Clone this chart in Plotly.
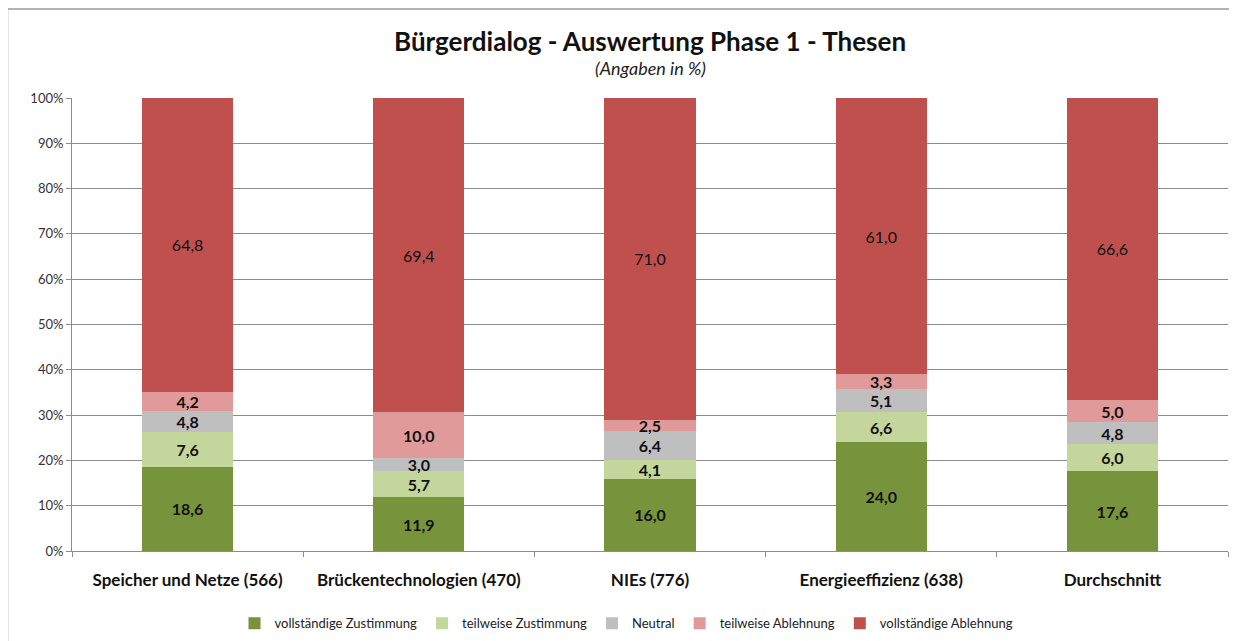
import plotly.graph_objects as go

# Data (values in %)
categories = ['Speicher und Netze (566)', 'Brückentechnologien (470)', 'NIEs (776)',
              'Energieeffizienz (638)', 'Durchschnitt']
voll_zust = [18.6, 11.9, 16.0, 24.0, 17.6]
teil_zust = [7.6, 5.7, 4.1, 6.6, 6.0]
neutral = [4.8, 3.0, 6.4, 5.1, 4.8]
teil_abl = [4.2, 10.0, 2.5, 3.3, 5.0]
voll_abl = [64.8, 69.4, 71.0, 61.0, 66.6]

series = [
	('vollständige Zustimmung', voll_zust, '#77933C', True),
	('teilweise Zustimmung', teil_zust, '#C3D69B', True),
	('Neutral', neutral, '#BFBFBF', True),
	('teilweise Ablehnung', teil_abl, '#E09A9A', True),
	('vollständige Ablehnung', voll_abl, '#C0504D', False),
]

font = 'Lato, "Open Sans", sans-serif'

# plot area (figure pixels): top 90, bottom 543
def paper_y(py):
	return (543 - py) / 453

fig = go.Figure()
for name, vals, color, bold in series:
	fig.add_trace(go.Bar(
		x=categories, y=vals, name=name,
		marker=dict(color=color, line=dict(width=0)),
		texttemplate='<b>%{y:.1f}</b>' if bold else '%{y:.1f}',
		textposition='inside', insidetextanchor='middle',
		constraintext='none',
		textfont=dict(family=font, size=16, color='#111111'),
		hovertemplate='%{x}<br>' + name + ': %{y:.1f}%<extra></extra>'
	))

fig.update_layout(
	width=1237, height=641,
	barmode='stack', bargap=0.605,
	separators=',.',
	paper_bgcolor='white', plot_bgcolor='white',
	margin=dict(l=64, r=17, t=90, b=98, autoexpand=False),
	font=dict(family=font, size=12, color='#222222'),
	showlegend=True,
	legend=dict(orientation='h', xref='container', yref='container',
				x=0.5, xanchor='center', y=0.04, yanchor='middle',
				font=dict(size=13), traceorder='normal', itemwidth=30),
	xaxis=dict(showline=True, linecolor='#8c8c8c', linewidth=1, automargin=False,
			   ticks='outside', tickson='boundaries', ticklen=5, tickcolor='#8c8c8c',
			   ticklabelstandoff=14,
			   tickfont=dict(size=17, color='#111111', family=font, weight='bold'),
			   showgrid=False),
	yaxis=dict(range=[0, 100], dtick=10, ticksuffix='%', automargin=False,
			   showline=True, linecolor='#8c8c8c', linewidth=1,
			   ticks='outside', ticklen=5, tickcolor='#8c8c8c',
			   gridcolor='#8c8c8c', gridwidth=1,
			   tickfont=dict(size=13, color='#333333'), zeroline=False),
	annotations=[
		dict(text='<b>Bürgerdialog - Auswertung Phase 1 - Thesen</b>', xref='paper', yref='paper',
			 x=0.5, y=paper_y(33), xanchor='center', yanchor='middle', showarrow=False,
			 font=dict(size=26, color='#111111', family=font)),
		dict(text='<i>(Angaben in %)</i>', xref='paper', yref='paper',
			 x=0.5, y=paper_y(60), xanchor='center', yanchor='middle', showarrow=False,
			 font=dict(size=18, color='#222222', family=font)),
	],
	shapes=[
		dict(type='rect', xref='paper', yref='paper',
			 x0=-64.5 / 1156, x1=1.05, y0=-0.3, y1=paper_y(1),
			 line=dict(color='#9a9a9a', width=1.5), layer='below'),
	],
)

fig.write_html('out.html')
